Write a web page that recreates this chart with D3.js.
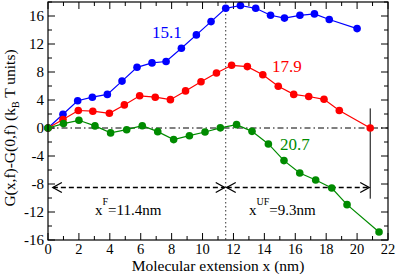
<!DOCTYPE html>
<html>
<head>
<meta charset="utf-8">
<script src="https://cdn.jsdelivr.net/npm/d3@7"></script>
<style>
  body { margin: 0; background: #fff; }
  svg { display: block; }
  svg text { font-family: "Liberation Serif", "DejaVu Serif", serif; }
</style>
</head>
<body>
<div id="chart"></div>
<script>
// extension (nm) and free energy (kBT) for each force
const blueX = [0, 0.97, 1.92, 2.87, 3.84, 4.79, 5.76, 6.73, 7.64, 8.63, 9.6, 10.55, 11.5, 12.45, 13.44, 14.4, 15.3, 16.3, 17.24, 18.2, 20.0];
const blueY = [0, 1.96, 3.9, 4.4, 4.8, 6.7, 8.67, 9.3, 9.5, 11.4, 13.3, 15.2, 17.1, 17.5, 17.1, 16.1, 15.7, 16.1, 16.3, 15.5, 14.2];
const redX = [0, 0.97, 1.96, 2.9, 3.97, 4.94, 5.93, 6.94, 7.92, 8.9, 9.9, 10.9, 11.88, 12.9, 13.9, 14.9, 15.9, 16.87, 17.86, 18.85, 20.85];
const redY = [0, 1.2, 2.5, 2.4, 2.1, 3.3, 4.6, 4.4, 4.05, 5.3, 6.6, 7.86, 8.96, 8.77, 7.6, 5.96, 4.8, 4.5, 4.1, 2.5, 0];
const greenX = [0, 1.0, 2.0, 3.04, 4.05, 5.09, 6.1, 7.1, 8.13, 9.15, 10.16, 11.15, 12.2, 13.2, 14.26, 15.27, 16.29, 17.32, 18.36, 19.35, 21.42];
const greenY = [0, 0.63, 1.1, 0.3, -0.7, -0.24, 0.33, -0.52, -1.66, -1.1, -0.57, 0.02, 0.48, -0.48, -2.28, -4.66, -6.42, -7.42, -8.57, -10.95, -14.86];
const seriesNames = ["15.1", "17.9", "20.7"];
const xTicks = [0, 2, 4, 6, 8, 10, 12, 14, 16, 18, 20, 22];
const yTicks = [-16, -12, -8, -4, 0, 4, 8, 12, 16];
const xF = 11.5, xEnd = 20.85, arrowY = -8.5;

const width = 397, height = 274;
const margin = { top: 2, right: 9, bottom: 34, left: 48 };

const svg = d3.select("#chart").append("svg")
  .attr("width", width)
  .attr("height", height)
  .attr("font-family", "'Liberation Serif', 'DejaVu Serif', serif");

const x = d3.scaleLinear().domain([0, 22]).range([margin.left, width - margin.right]);
const y = d3.scaleLinear().domain([-16, 18]).range([height - margin.bottom, margin.top]);

// inward ticks on all four sides
const x0 = x(0), x1 = x(22), y0 = y(-16), y1 = y(18);
const ax = svg.append("g").attr("stroke", "#000").attr("stroke-width", 1);
d3.range(0, 23, 1).forEach(v => {
  const len = v % 2 === 0 ? 7 : 4;
  ax.append("line").attr("x1", x(v)).attr("x2", x(v)).attr("y1", y0).attr("y2", y0 - len);
  ax.append("line").attr("x1", x(v)).attr("x2", x(v)).attr("y1", y1).attr("y2", y1 + len);
});
d3.range(-16, 19, 2).forEach(v => {
  const len = v % 4 === 0 ? 7 : 4;
  ax.append("line").attr("y1", y(v)).attr("y2", y(v)).attr("x1", x0).attr("x2", x0 + len);
  ax.append("line").attr("y1", y(v)).attr("y2", y(v)).attr("x1", x1).attr("x2", x1 - len);
});

svg.append("g").selectAll("text").data(xTicks).join("text")
  .attr("x", d => x(d)).attr("y", y0 + 14)
  .attr("text-anchor", "middle").attr("font-size", 14.5)
  .text(d => d);
svg.append("g").selectAll("text").data(yTicks).join("text")
  .attr("x", x0 - 4).attr("y", d => y(d) + 5)
  .attr("text-anchor", "end").attr("font-size", 15)
  .text(d => d);

// reference lines
svg.append("line").attr("x1", x0).attr("x2", x1).attr("y1", y(0)).attr("y2", y(0))
  .attr("stroke", "#000").attr("stroke-dasharray", "6,3,1.5,3");
svg.append("line").attr("x1", x(xF)).attr("x2", x(xF)).attr("y1", y1).attr("y2", y0)
  .attr("stroke", "#333").attr("stroke-dasharray", "1.5,2.5");
svg.append("line").attr("x1", x(xEnd)).attr("x2", x(xEnd)).attr("y1", y(2.8)).attr("y2", y(-10.1))
  .attr("stroke", "#000").attr("stroke-width", 1);

// double arrows
function arrow(a, b) {
  const g = svg.append("g").attr("stroke", "#000").attr("fill", "none").attr("stroke-width", 1.3);
  const ya = y(arrowY);
  g.append("line").attr("x1", x(a) + 1).attr("x2", x(b) - 1).attr("y1", ya).attr("y2", ya)
    .attr("stroke-dasharray", "5,3");
  g.append("path").attr("d", `M${x(a) + 10},${ya - 5}L${x(a) + 1},${ya}L${x(a) + 10},${ya + 5}`);
  g.append("path").attr("d", `M${x(b) - 10},${ya - 5}L${x(b) - 1},${ya}L${x(b) - 10},${ya + 5}`);
}
arrow(0.25, xF);
arrow(xF, xEnd);

// series
const series = [
  { xs: blueX, ys: blueY, color: "#0000ff" },
  { xs: redX, ys: redY, color: "#ff0000" },
  { xs: greenX, ys: greenY, color: "#008b00" }
];
const line = d3.line().x(d => x(d[0])).y(d => y(d[1]));
series.forEach(s => {
  const pts = s.xs.map((v, i) => [v, s.ys[i]]);
  svg.append("path").datum(pts).attr("d", line)
    .attr("fill", "none").attr("stroke", s.color).attr("stroke-width", 1.2);
  svg.append("g").selectAll("circle").data(pts).join("circle")
    .attr("cx", d => x(d[0])).attr("cy", d => y(d[1])).attr("r", 3.8)
    .attr("fill", s.color);
});

// frame
svg.append("rect").attr("x", x0).attr("y", y1).attr("width", x1 - x0).attr("height", y0 - y1)
  .attr("fill", "none").attr("stroke", "#000").attr("stroke-width", 1.2);

// series labels
const labelPos = [[152, 38], [272, 72], [280, 150]];
seriesNames.forEach((t, i) => {
  svg.append("text").attr("x", labelPos[i][0]).attr("y", labelPos[i][1])
    .attr("font-size", 17).attr("fill", series[i].color).text(t);
});

// distance labels
function distLabel(px, sup, rest) {
  const t = svg.append("text").attr("x", px).attr("y", 215).attr("font-size", 15);
  t.append("tspan").text("x");
  t.append("tspan").attr("dy", -10).attr("font-size", 10).text(sup);
  t.append("tspan").attr("dy", 10).text(rest);
}
distLabel(95, "F", "=11.4nm");
distLabel(249, "UF", "=9.3nm");

// axis titles
svg.append("text").attr("x", 218).attr("y", 271).attr("text-anchor", "middle")
  .attr("font-size", 15.5).text("Molecular extension x (nm)");
const yl = svg.append("text").attr("transform", "translate(15,128) rotate(-90)")
  .attr("text-anchor", "middle").attr("font-size", 15.5);
yl.append("tspan").text("G(x,f)-G(0,f)  (k");
yl.append("tspan").attr("dy", 4).attr("font-size", 10).text("B");
yl.append("tspan").attr("dy", -4).text(" T units)");
</script>
</body>
</html>
